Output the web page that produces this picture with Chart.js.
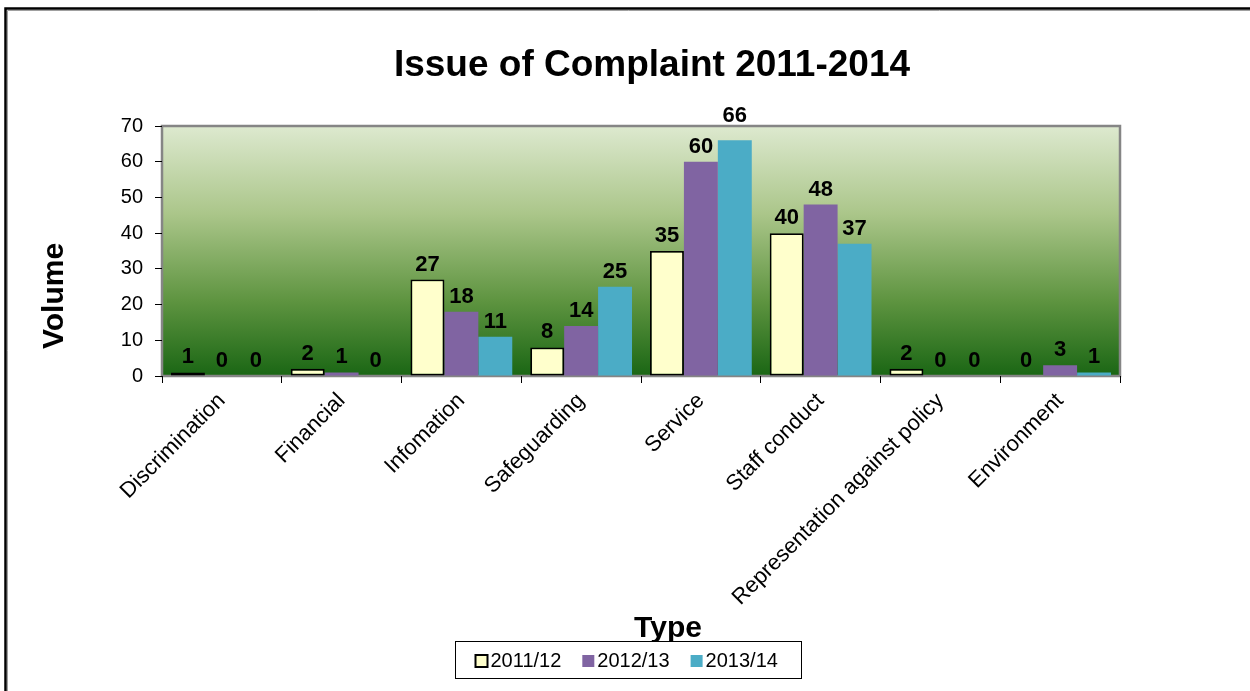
<!DOCTYPE html>
<html>
<head>
<meta charset="utf-8">
<script src="https://cdn.jsdelivr.net/npm/chart.js@4.4.1/dist/chart.umd.min.js"></script>
<style>
  html, body { margin: 0; padding: 0; background: #ffffff; }
  canvas { display: block; }
</style>
</head>
<body>
<canvas id="complaints" width="1250" height="691"></canvas>
<script>
// Complaint volumes by issue type, per financial year
const categories = ['Discrimination', 'Financial', 'Infomation', 'Safeguarding', 'Service',
                    'Staff conduct', 'Representation against policy', 'Environment'];
const seriesNames = ['2011/12', '2012/13', '2013/14'];
const values2011 = [1, 2, 27, 8, 35, 40, 2, 0];
const values2012 = [0, 1, 18, 14, 60, 48, 0, 3];
const values2013 = [0, 0, 11, 25, 66, 37, 0, 1];
const yTicks = [0, 10, 20, 30, 40, 50, 60, 70];

const chartTitle = 'Issue of Complaint 2011-2014';
const xTitle = 'Type';
const yTitle = 'Volume';

const FONT = "'Liberation Sans', Arial, sans-serif";
const seriesColors = ['#FFFFCC', '#8064A2', '#4BACC6'];

// Page frame, plot gradient and plot border
const backdrop = {
  id: 'backdrop',
  beforeDraw(chart) {
    const { ctx, chartArea: a } = chart;
    ctx.save();
    ctx.fillStyle = '#ffffff';
    ctx.fillRect(0, 0, chart.width, chart.height);
    // outer frame (top and left edges)
    ctx.strokeStyle = '#000000';
    ctx.lineWidth = 2.5;
    ctx.beginPath();
    ctx.moveTo(5.5, chart.height);
    ctx.lineTo(5.5, 8.5);
    ctx.lineTo(chart.width, 8.5);
    ctx.stroke();
    ctx.strokeStyle = '#a0a0a0';
    ctx.lineWidth = 1;
    ctx.beginPath();
    ctx.moveTo(7.5, chart.height);
    ctx.lineTo(7.5, 10.5);
    ctx.lineTo(chart.width, 10.5);
    ctx.stroke();
    // plot background gradient
    const g = ctx.createLinearGradient(0, a.top, 0, a.bottom);
    g.addColorStop(0, '#dde9cf');
    g.addColorStop(0.35, '#abc68a');
    g.addColorStop(0.7, '#5e9440');
    g.addColorStop(1, '#1a6614');
    ctx.fillStyle = g;
    ctx.fillRect(a.left, a.top, a.right - a.left, a.bottom - a.top);
    ctx.strokeStyle = '#858585';
    ctx.lineWidth = 2.5;
    ctx.strokeRect(a.left, a.top, a.right - a.left, a.bottom - a.top);
    ctx.restore();
  }
};

// Chart title and axis titles
const titles = {
  id: 'titles',
  afterDraw(chart) {
    const { ctx } = chart;
    ctx.save();
    ctx.fillStyle = '#000000';
    ctx.textAlign = 'center';
    ctx.textBaseline = 'middle';
    ctx.font = `bold 37px ${FONT}`;
    ctx.fillText(chartTitle, 652, 66);
    ctx.font = `bold 30px ${FONT}`;
    ctx.fillText(xTitle, 668, 629);
    ctx.translate(55, 296);
    ctx.rotate(-Math.PI / 2);
    ctx.fillText(yTitle, 0, 0);
    ctx.restore();
  }
};

// Value labels above each bar
const valueLabels = {
  id: 'valueLabels',
  afterDatasetsDraw(chart) {
    const { ctx, chartArea: a } = chart;
    ctx.save();
    ctx.font = `bold 22px ${FONT}`;
    ctx.fillStyle = '#000000';
    ctx.textAlign = 'center';
    ctx.textBaseline = 'middle';
    chart.data.datasets.forEach((ds, i) => {
      chart.getDatasetMeta(i).data.forEach((bar, j) => {
        let y = bar.y - 15;
        if (y > a.top - 10 && y - 9 < a.top) y = a.top - 10;
        ctx.fillText(String(ds.data[j]), bar.x, y);
      });
    });
    ctx.restore();
  }
};

// Boxed legend drawn below the plot
const boxedLegend = {
  id: 'boxedLegend',
  afterDraw(chart) {
    const { ctx } = chart;
    const box = { x: 455.5, y: 641.5, w: 346, h: 37 };
    ctx.save();
    ctx.fillStyle = '#ffffff';
    ctx.fillRect(box.x, box.y, box.w, box.h);
    ctx.strokeStyle = '#000000';
    ctx.lineWidth = 1;
    ctx.strokeRect(box.x, box.y, box.w, box.h);
    ctx.font = `20px ${FONT}`;
    ctx.textBaseline = 'middle';
    ctx.textAlign = 'left';
    const cy = box.y + box.h / 2 + 1;
    let x = box.x + 20;
    chart.data.datasets.forEach((ds, i) => {
      const s = 12;
      ctx.fillStyle = ds.backgroundColor;
      ctx.fillRect(x, cy - s / 2, s, s);
      if (ds.borderWidth) {
        ctx.strokeStyle = '#000000';
        ctx.lineWidth = 2;
        ctx.strokeRect(x, cy - s / 2, s, s);
      }
      x += s + 3;
      ctx.fillStyle = '#000000';
      ctx.fillText(ds.label, x, cy);
      x += ctx.measureText(ds.label).width + 21;
    });
    ctx.restore();
  }
};

new Chart(document.getElementById('complaints'), {
  type: 'bar',
  data: {
    labels: categories,
    datasets: [
      { label: seriesNames[0], data: values2011, backgroundColor: seriesColors[0],
        borderColor: '#000000', borderWidth: 1.8, borderSkipped: false },
      { label: seriesNames[1], data: values2012, backgroundColor: seriesColors[1], borderWidth: 0 },
      { label: seriesNames[2], data: values2013, backgroundColor: seriesColors[2], borderWidth: 0 }
    ]
  },
  options: {
    responsive: false,
    animation: false,
    devicePixelRatio: 1,
    layout: { padding: { top: 126, left: 0, right: 130, bottom: 0 } },
    datasets: { bar: { categoryPercentage: 0.85, barPercentage: 1.0 } },
    plugins: {
      legend: { display: false },
      title: { display: false },
      tooltip: { enabled: false }
    },
    scales: {
      x: {
        afterFit(scale) { scale.height = 315; },
        grid: { offset: true, drawOnChartArea: false, drawTicks: true, tickLength: 7,
                color: '#000000', lineWidth: 1 },
        border: { display: false },
        ticks: { color: '#000000', font: { family: FONT, size: 22 },
                 minRotation: 45, maxRotation: 45, autoSkip: false, padding: 5 }
      },
      y: {
        min: 0, max: 70,
        afterFit(scale) { scale.width = 162; },
        afterBuildTicks(scale) { scale.ticks = yTicks.map(v => ({ value: v })); },
        grid: { drawOnChartArea: false, drawTicks: true, tickLength: 7,
                color: '#000000', lineWidth: 1 },
        border: { display: false },
        ticks: { color: '#000000', font: { family: FONT, size: 20 }, padding: 12 }
      }
    }
  },
  plugins: [backdrop, valueLabels, titles, boxedLegend]
});
</script>
</body>
</html>
